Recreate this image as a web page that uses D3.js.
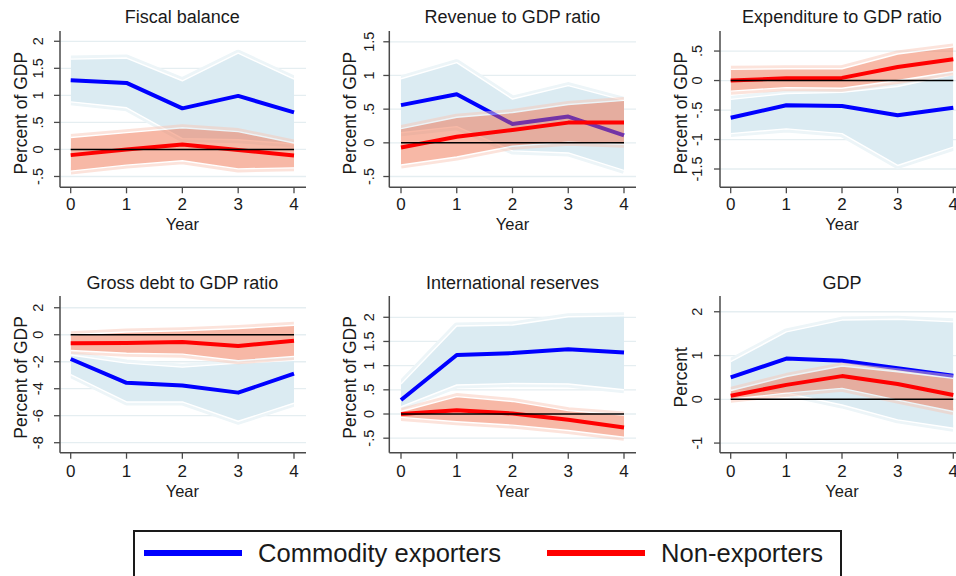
<!DOCTYPE html>
<html><head><meta charset="utf-8">
<script src="https://cdn.jsdelivr.net/npm/d3@7"></script>
<style>
body{margin:0;background:#fff}
svg{display:block}
text{font-family:"Liberation Sans",Arial,Helvetica,sans-serif;fill:#1a1a1a}
</style>
</head><body>
<svg id="chart" width="956" height="576"></svg>
<script>
// ---------------- DATA ----------------
const years = [0, 1, 2, 3, 4];
const panelTitles = ["Fiscal balance", "Revenue to GDP ratio", "Expenditure to GDP ratio",
                     "Gross debt to GDP ratio", "International reserves", "GDP"];
const yAxisTitles = ["Percent of GDP", "Percent of GDP", "Percent of GDP",
                     "Percent of GDP", "Percent of GDP", "Percent"];
const yTickValues = [
  [-0.5, 0, 0.5, 1, 1.5, 2],
  [-0.5, 0, 0.5, 1, 1.5],
  [-1.5, -1, -0.5, 0, 0.5],
  [-8, -6, -4, -2, 0, 2],
  [-0.5, 0, 0.5, 1, 1.5, 2],
  [-1, 0, 1, 2]
];
const yTickLabels = [
  ["-.5", "0", ".5", "1", "1.5", "2"],
  ["-.5", "0", ".5", "1", "1.5"],
  ["-1.5", "-1", "-.5", "0", ".5"],
  ["-8", "-6", "-4", "-2", "0", "2"],
  ["-.5", "0", ".5", "1", "1.5", "2"],
  ["-1", "0", "1", "2"]
];
const yDomains = [[-0.70, 2.19], [-0.66, 1.66], [-1.81, 0.84], [-8.74, 2.87], [-0.80, 2.44], [-1.22, 2.36]];

// Fiscal balance
const fiscalComm   = [1.28, 1.23, 0.76, 0.99, 0.685];
const fiscalCommLo = [0.88, 0.77, 0.20, 0.18, 0.10];
const fiscalCommHi = [1.67, 1.69, 1.27, 1.78, 1.30];
const fiscalNon    = [-0.105, 0.0, 0.09, -0.01, -0.11];
const fiscalNonLo  = [-0.40, -0.29, -0.21, -0.36, -0.34];
const fiscalNonHi  = [0.22, 0.31, 0.40, 0.33, 0.12];
// Revenue to GDP ratio
const revComm   = [0.56, 0.72, 0.28, 0.39, 0.11];
const revCommLo = [0.15, 0.24, -0.12, -0.15, -0.41];
const revCommHi = [0.95, 1.19, 0.65, 0.85, 0.63];
const revNon    = [-0.07, 0.09, 0.19, 0.30, 0.30];
const revNonLo  = [-0.33, -0.21, -0.05, 0.01, -0.02];
const revNonHi  = [0.21, 0.38, 0.45, 0.57, 0.63];
// Expenditure to GDP ratio
const expComm   = [-0.63, -0.42, -0.43, -0.59, -0.46];
const expCommLo = [-0.90, -0.82, -0.90, -1.44, -1.13];
const expCommHi = [-0.32, -0.22, -0.20, -0.10, 0.10];
const expNon    = [0.0, 0.04, 0.045, 0.23, 0.36];
const expNonLo  = [-0.18, -0.12, -0.13, 0.0, 0.15];
const expNonHi  = [0.19, 0.20, 0.20, 0.45, 0.57];
// Gross debt to GDP ratio
const debtComm   = [-1.80, -3.56, -3.76, -4.29, -2.88];
const debtCommLo = [-2.95, -4.98, -4.98, -6.41, -5.07];
const debtCommHi = [-1.50, -2.10, -2.40, -2.10, -1.90];
const debtNon    = [-0.63, -0.61, -0.54, -0.83, -0.44];
const debtNonLo  = [-1.17, -1.37, -1.44, -1.93, -1.61];
const debtNonHi  = [0.0, 0.20, 0.30, 0.46, 0.70];
// International reserves
const resComm   = [0.29, 1.22, 1.26, 1.34, 1.27];
const resCommLo = [0.15, 0.60, 0.63, 0.62, 0.50];
const resCommHi = [0.62, 1.82, 1.84, 2.01, 2.03];
const resNon    = [0.0, 0.08, 0.01, -0.12, -0.28];
const resNonLo  = [-0.07, -0.16, -0.23, -0.34, -0.48];
const resNonHi  = [0.05, 0.36, 0.26, 0.07, -0.02];
// GDP
const gdpComm   = [0.50, 0.93, 0.88, 0.71, 0.54];
const gdpCommLo = [0.21, 0.14, -0.13, -0.47, -0.66];
const gdpCommHi = [0.86, 1.54, 1.81, 1.83, 1.77];
const gdpNon    = [0.08, 0.33, 0.53, 0.35, 0.10];
const gdpNonLo  = [0.0, 0.14, 0.25, -0.02, -0.28];
const gdpNonHi  = [0.20, 0.52, 0.76, 0.63, 0.48];

const seriesNames = ["Commodity exporters", "Non-exporters"];

const panelSeries = [
  [fiscalComm, fiscalCommLo, fiscalCommHi, fiscalNon, fiscalNonLo, fiscalNonHi],
  [revComm, revCommLo, revCommHi, revNon, revNonLo, revNonHi],
  [expComm, expCommLo, expCommHi, expNon, expNonLo, expNonHi],
  [debtComm, debtCommLo, debtCommHi, debtNon, debtNonLo, debtNonHi],
  [resComm, resCommLo, resCommHi, resNon, resNonLo, resNonHi],
  [gdpComm, gdpCommLo, gdpCommHi, gdpNon, gdpNonLo, gdpNonHi]
];

// ---------------- LAYOUT ----------------
const cols = [
  {axisX: 60,    x0: 70.7,  x4: 294,   right: 306, tickOff: 17},
  {axisX: 389.3, x0: 401,   x4: 624,   right: 636, tickOff: 15},
  {axisX: 720,   x0: 730.7, x4: 953.3, right: 960, tickOff: 18}
];
const rows = [
  {top: 31,  bottom: 187.3, titleY: 22.5, xLabY: 209.5, yearY: 230, yTitleShift: 4},
  {top: 296, bottom: 452.7, titleY: 288.5, xLabY: 477, yearY: 496.5, yTitleShift: 3}
];
const C = {
  blue: "#0000ff", red: "#ff0000",
  blueFill: "#dbebf2", bluePale: "#edf5f8",
  redFill: "rgb(240,108,70)", redPale: "rgb(249,198,181)", redOpacity: 0.48,
  grid: "#e5eef1", axis: "#4a4a4a"
};

const svg = d3.select("#chart");
const defs = svg.append("defs");

panelTitles.forEach((title, i) => {
  const col = cols[i % 3], row = rows[Math.floor(i / 3)];
  const x = d3.scaleLinear().domain([0, 4]).range([col.x0, col.x4]);
  const y = d3.scaleLinear().domain(yDomains[i]).range([row.bottom, row.top]);
  const g = svg.append("g");
  const [est1, lo1, hi1, est2, lo2, hi2] = panelSeries[i];

  const cid = "clip" + i;
  defs.append("clipPath").attr("id", cid).append("rect")
    .attr("x", col.x0).attr("y", row.top - 20)
    .attr("width", col.x4 - col.x0).attr("height", row.bottom - row.top + 20);

  g.selectAll(".grid").data(yTickValues[i]).join("line")
    .attr("x1", col.axisX).attr("x2", col.right)
    .attr("y1", d => y(d)).attr("y2", d => y(d))
    .attr("stroke", C.grid).attr("stroke-width", 1.3);

  const area = (lo, hi) => d3.area().x((d, k) => x(years[k])).y0((d, k) => y(lo[k])).y1((d, k) => y(hi[k]))(years);
  const line = arr => d3.line().x((d, k) => x(years[k])).y((d, k) => y(arr[k]))(years);

  function band(parent, lo, hi, fill, pale) {
    const b = parent.append("g").attr("clip-path", `url(#${cid})`);
    [lo, hi].forEach(a => b.append("path").attr("d", line(a)).attr("fill", "none")
      .attr("stroke", pale).attr("stroke-width", 7).attr("stroke-linejoin", "round"));
    b.append("path").attr("d", area(lo, hi)).attr("fill", fill);
    [lo, hi].forEach(a => b.append("path").attr("d", line(a)).attr("fill", "none")
      .attr("stroke", "#fff").attr("stroke-width", 1.4).attr("stroke-linejoin", "round"));
  }

  band(g, lo1, hi1, C.blueFill, C.bluePale);
  g.append("path").attr("d", line(est1)).attr("fill", "none")
    .attr("stroke", C.blue).attr("stroke-width", 4).attr("stroke-linejoin", "round");

  const rg = g.append("g").attr("opacity", C.redOpacity);
  band(rg, lo2, hi2, C.redFill, C.redPale);
  g.append("path").attr("d", line(est2)).attr("fill", "none")
    .attr("stroke", C.red).attr("stroke-width", 4).attr("stroke-linejoin", "round");

  g.append("line").attr("x1", x(0)).attr("x2", x(4)).attr("y1", y(0)).attr("y2", y(0))
    .attr("stroke", "#000").attr("stroke-width", 1.5);

  g.append("line").attr("x1", col.axisX).attr("x2", col.axisX).attr("y1", row.top).attr("y2", row.bottom)
    .attr("stroke", C.axis).attr("stroke-width", 1.5);
  g.append("line").attr("x1", col.axisX).attr("x2", col.right).attr("y1", row.bottom).attr("y2", row.bottom)
    .attr("stroke", C.axis).attr("stroke-width", 1.5);

  g.selectAll(".yt").data(yTickValues[i]).join("line")
    .attr("x1", col.axisX - 6).attr("x2", col.axisX)
    .attr("y1", d => y(d)).attr("y2", d => y(d))
    .attr("stroke", C.axis).attr("stroke-width", 1.3);
  g.selectAll(".yl").data(yTickValues[i]).join("text")
    .attr("transform", d => `translate(${col.axisX - col.tickOff},${y(d)}) rotate(-90)`)
    .attr("text-anchor", "middle").attr("font-size", 14.5)
    .text((d, k) => yTickLabels[i][k]);

  g.selectAll(".xt").data(years).join("line")
    .attr("x1", d => x(d)).attr("x2", d => x(d))
    .attr("y1", row.bottom).attr("y2", row.bottom + 6)
    .attr("stroke", C.axis).attr("stroke-width", 1.3);
  g.selectAll(".xl").data(years).join("text")
    .attr("x", d => x(d)).attr("y", row.xLabY)
    .attr("text-anchor", "middle").attr("font-size", 17)
    .text(d => d);

  g.append("text").attr("x", (x(0) + x(4)) / 2).attr("y", row.yearY)
    .attr("text-anchor", "middle").attr("font-size", 16.5).text("Year");
  g.append("text")
    .attr("transform", `translate(${col.axisX - 33},${(row.top + row.bottom) / 2 + row.yTitleShift}) rotate(-90)`)
    .attr("text-anchor", "middle").attr("font-size", 17.5).text(yAxisTitles[i]);

  g.append("text").attr("x", (x(0) + x(4)) / 2).attr("y", row.titleY)
    .attr("text-anchor", "middle").attr("font-size", 18).text(title);
});

// ---------------- LEGEND ----------------
const lg = svg.append("g");
lg.append("rect").attr("x", 134).attr("y", 531).attr("width", 707).attr("height", 70)
  .attr("fill", "none").attr("stroke", "#1a1a1a").attr("stroke-width", 2);
const legendItems = [
  {name: seriesNames[0], color: C.blue, lx: 144, tx: 258, w: 243},
  {name: seriesNames[1], color: C.red,  lx: 547, tx: 661, w: 162}
];
legendItems.forEach(it => {
  lg.append("line").attr("x1", it.lx).attr("x2", it.lx + 98).attr("y1", 553).attr("y2", 553)
    .attr("stroke", it.color).attr("stroke-width", 6);
  lg.append("text").attr("x", it.tx).attr("y", 562).attr("font-size", 25)
    .attr("textLength", it.w).attr("lengthAdjust", "spacingAndGlyphs").text(it.name);
});
</script>
</body></html>
